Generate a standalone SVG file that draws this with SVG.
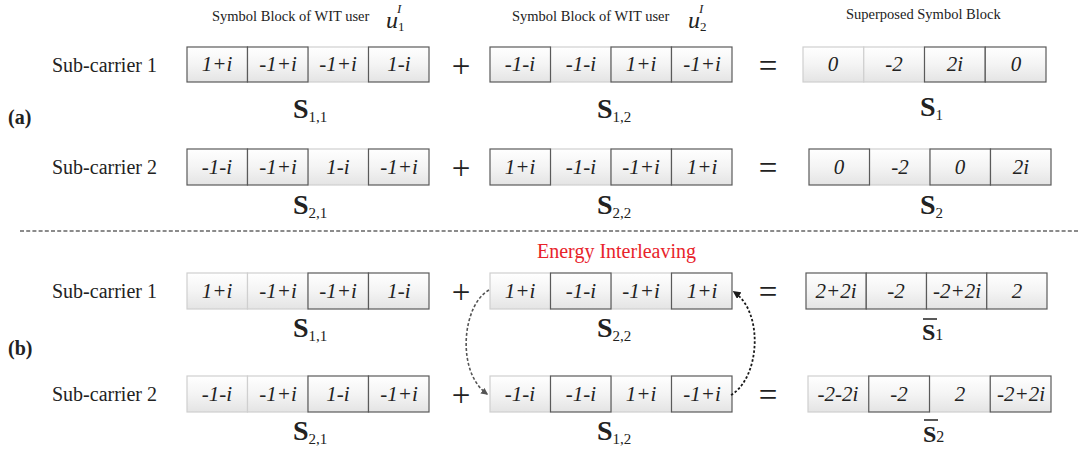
<svg xmlns="http://www.w3.org/2000/svg" width="1080" height="455" viewBox="0 0 1080 455">
<style>
text{font-family:"Liberation Serif","Times New Roman",serif;fill:#222}
.hd{font-size:14.5px}
.lab{font-size:20px}
.ab{font-size:20px;font-weight:bold}
.v{font-size:21px;font-style:italic;text-anchor:middle}
.op{font-size:33px;text-anchor:middle}
.S{font-size:28px;font-weight:bold}
.sub{font-size:15px;font-weight:normal}
.u{font-size:24px;font-style:italic}
.us{font-size:13px}
.usi{font-size:13px;font-style:italic}
.red{font-size:20px;fill:#e8232b}
.l{fill:url(#g);stroke:#cfcfcf;stroke-width:1.2}
.d{fill:url(#g);stroke:#5a5a5a;stroke-width:1.2}
.sep{stroke:#666;stroke-width:1.6;stroke-dasharray:4 2.2;fill:none}
.arr1{stroke:#555;stroke-width:1.6;stroke-dasharray:3 2;fill:none}
.arr2{stroke:#1a1a1a;stroke-width:1.8;stroke-dasharray:2.5 2;fill:none}
.bar{stroke:#222;stroke-width:1.5}
</style>
<defs>
<linearGradient id="g" x1="0" y1="0" x2="0" y2="1">
<stop offset="0" stop-color="#ffffff"/>
<stop offset="0.5" stop-color="#f4f4f4"/>
<stop offset="1" stop-color="#e4e4e4"/>
</linearGradient>
<marker id="m1" viewBox="0 0 10 10" refX="8" refY="5" markerWidth="7" markerHeight="7" orient="auto" markerUnits="userSpaceOnUse"><path d="M0,0 L10,5 L0,10 Z" fill="#555"/></marker>
<marker id="m2" viewBox="0 0 10 10" refX="8" refY="5" markerWidth="8" markerHeight="8" orient="auto" markerUnits="userSpaceOnUse"><path d="M0,0 L10,5 L0,10 Z" fill="#1a1a1a"/></marker>
</defs>

<g id="headers">
<text class="hd" x="212" y="21">Symbol Block of WIT user</text>
<text class="u" x="386" y="28">u</text><text class="us" x="398" y="31">1</text><text class="usi" x="397" y="13">I</text>
<text class="hd" x="512" y="21">Symbol Block of WIT user</text>
<text class="u" x="688" y="28">u</text><text class="us" x="700" y="31">2</text><text class="usi" x="699" y="13">I</text>
<text class="hd" x="846" y="19">Superposed Symbol Block</text>
</g>

<g id="labels">
<text class="lab" x="52" y="72">Sub-carrier 1</text>
<text class="lab" x="52" y="174">Sub-carrier 2</text>
<text class="lab" x="52" y="298">Sub-carrier 1</text>
<text class="lab" x="52" y="401">Sub-carrier 2</text>
<text class="ab" x="8" y="124">(a)</text>
<text class="ab" x="8" y="355">(b)</text>
<text class="red" x="537" y="258">Energy Interleaving</text>
</g>

<line id="separator" class="sep" x1="20" y1="231" x2="1080" y2="231"/>

<!-- Row a1 -->
<g id="a1-b1">
<rect class="l" x="308" y="47" width="60.5" height="35"/>
<rect class="d" x="187" y="47" width="60.5" height="35"/>
<rect class="d" x="247.5" y="47" width="60.5" height="35"/>
<rect class="d" x="368.5" y="47" width="60.5" height="35"/>
<text class="v" x="217" y="71">1+i</text><text class="v" x="278" y="71">-1+i</text><text class="v" x="338" y="71">-1+i</text><text class="v" x="399" y="71">1-i</text>
<text class="S" x="293" y="118">S<tspan class="sub" dy="4">1,1</tspan></text>
</g>
<text class="op" x="461" y="77">+</text>
<g id="a1-b2">
<rect class="l" x="550.5" y="47" width="60.5" height="35"/>
<rect class="d" x="490" y="47" width="60.5" height="35"/>
<rect class="d" x="611" y="47" width="60.5" height="35"/>
<rect class="d" x="671.5" y="47" width="60.5" height="35"/>
<text class="v" x="520" y="71">-1-i</text><text class="v" x="581" y="71">-1-i</text><text class="v" x="641" y="71">1+i</text><text class="v" x="702" y="71">-1+i</text>
<text class="S" x="597" y="118">S<tspan class="sub" dy="4">1,2</tspan></text>
</g>
<text class="op" x="768" y="77">=</text>
<g id="a1-b3">
<rect class="l" x="803" y="47" width="60.75" height="35"/>
<rect class="l" x="863.75" y="47" width="60.75" height="35"/>
<rect class="d" x="924.5" y="47" width="60.75" height="35"/>
<rect class="d" x="985.25" y="47" width="60.75" height="35"/>
<text class="v" x="833" y="71">0</text><text class="v" x="894" y="71">-2</text><text class="v" x="955" y="71">2i</text><text class="v" x="1016" y="71">0</text>
<text class="S" x="920" y="116">S<tspan class="sub" dy="4">1</tspan></text>
</g>

<!-- Row a2 -->
<g id="a2-b1">
<rect class="l" x="308" y="149" width="60.5" height="36"/>
<rect class="d" x="187" y="149" width="60.5" height="36"/>
<rect class="d" x="247.5" y="149" width="60.5" height="36"/>
<rect class="d" x="368.5" y="149" width="60.5" height="36"/>
<text class="v" x="217" y="174">-1-i</text><text class="v" x="278" y="174">-1+i</text><text class="v" x="338" y="174">1-i</text><text class="v" x="399" y="174">-1+i</text>
<text class="S" x="293" y="214">S<tspan class="sub" dy="4">2,1</tspan></text>
</g>
<text class="op" x="461" y="179">+</text>
<g id="a2-b2">
<rect class="l" x="550.5" y="149" width="60.5" height="36"/>
<rect class="d" x="490" y="149" width="60.5" height="36"/>
<rect class="d" x="611" y="149" width="60.5" height="36"/>
<rect class="d" x="671.5" y="149" width="60.5" height="36"/>
<text class="v" x="520" y="174">1+i</text><text class="v" x="581" y="174">-1-i</text><text class="v" x="641" y="174">-1+i</text><text class="v" x="702" y="174">1+i</text>
<text class="S" x="597" y="214">S<tspan class="sub" dy="4">2,2</tspan></text>
</g>
<text class="op" x="768" y="179">=</text>
<g id="a2-b3">
<rect class="l" x="869.5" y="149" width="60.5" height="36"/>
<rect class="d" x="809" y="149" width="60.5" height="36"/>
<rect class="d" x="930" y="149" width="60.5" height="36"/>
<rect class="d" x="990.5" y="149" width="60.5" height="36"/>
<text class="v" x="839" y="174">0</text><text class="v" x="900" y="174">-2</text><text class="v" x="960" y="174">0</text><text class="v" x="1021" y="174">2i</text>
<text class="S" x="920" y="214">S<tspan class="sub" dy="4">2</tspan></text>
</g>

<!-- Row b1 -->
<g id="b1-b1">
<rect class="l" x="187" y="273" width="60.5" height="36"/>
<rect class="l" x="247.5" y="273" width="60.5" height="36"/>
<rect class="d" x="308" y="273" width="60.5" height="36"/>
<rect class="d" x="368.5" y="273" width="60.5" height="36"/>
<text class="v" x="217" y="298">1+i</text><text class="v" x="278" y="298">-1+i</text><text class="v" x="338" y="298">-1+i</text><text class="v" x="399" y="298">1-i</text>
<text class="S" x="293" y="337">S<tspan class="sub" dy="4">1,1</tspan></text>
</g>
<text class="op" x="461" y="303">+</text>
<g id="b1-b2">
<rect class="l" x="490" y="273" width="60.5" height="36"/>
<rect class="l" x="611" y="273" width="60.5" height="36"/>
<rect class="d" x="550.5" y="273" width="60.5" height="36"/>
<rect class="d" x="671.5" y="273" width="60.5" height="36"/>
<text class="v" x="520" y="298">1+i</text><text class="v" x="581" y="298">-1-i</text><text class="v" x="641" y="298">-1+i</text><text class="v" x="702" y="298">1+i</text>
<text class="S" x="597" y="337">S<tspan class="sub" dy="4">2,2</tspan></text>
</g>
<text class="op" x="768" y="303">=</text>
<g id="b1-b3">
<rect class="d" x="806" y="273" width="60.25" height="36"/>
<rect class="d" x="866.25" y="273" width="60.25" height="36"/>
<rect class="d" x="926.5" y="273" width="60.25" height="36"/>
<rect class="d" x="986.75" y="273" width="60.25" height="36"/>
<text class="v" x="836" y="298">2+2i</text><text class="v" x="896" y="298">-2</text><text class="v" x="957" y="298">-2+2i</text><text class="v" x="1017" y="298">2</text>
<line class="bar" x1="923" y1="319" x2="937" y2="319"/>
<text class="S" x="922" y="340" style="font-size:24px">S<tspan class="sub" style="font-size:16px">1</tspan></text>
</g>

<!-- Row b2 -->
<g id="b2-b1">
<rect class="l" x="187" y="376" width="60.5" height="36"/>
<rect class="l" x="247.5" y="376" width="60.5" height="36"/>
<rect class="d" x="308" y="376" width="60.5" height="36"/>
<rect class="d" x="368.5" y="376" width="60.5" height="36"/>
<text class="v" x="217" y="401">-1-i</text><text class="v" x="278" y="401">-1+i</text><text class="v" x="338" y="401">1-i</text><text class="v" x="399" y="401">-1+i</text>
<text class="S" x="293" y="440">S<tspan class="sub" dy="4">2,1</tspan></text>
</g>
<text class="op" x="461" y="406">+</text>
<g id="b2-b2">
<rect class="l" x="490" y="376" width="60.5" height="36"/>
<rect class="l" x="611" y="376" width="60.5" height="36"/>
<rect class="d" x="550.5" y="376" width="60.5" height="36"/>
<rect class="d" x="671.5" y="376" width="60.5" height="36"/>
<text class="v" x="520" y="401">-1-i</text><text class="v" x="581" y="401">-1-i</text><text class="v" x="641" y="401">1+i</text><text class="v" x="702" y="401">-1+i</text>
<text class="S" x="597" y="440">S<tspan class="sub" dy="4">1,2</tspan></text>
</g>
<text class="op" x="768" y="406">=</text>
<g id="b2-b3">
<rect class="l" x="808" y="376" width="60.75" height="36"/>
<rect class="l" x="929.5" y="376" width="60.75" height="36"/>
<rect class="d" x="868.75" y="376" width="60.75" height="36"/>
<rect class="d" x="990.25" y="376" width="60.75" height="36"/>
<text class="v" x="838" y="401">-2-2i</text><text class="v" x="899" y="401">-2</text><text class="v" x="960" y="401">2</text><text class="v" x="1021" y="401">-2+2i</text>
<line class="bar" x1="924" y1="420" x2="938" y2="420"/>
<text class="S" x="923" y="442" style="font-size:24px">S<tspan class="sub" style="font-size:16px">2</tspan></text>
</g>

<g id="connectors">
<path class="arr1" d="M489,290 C462,305 456,372 487,394" marker-end="url(#m1)"/>
<path class="arr2" d="M731,395 C760,378 764,312 734,292" marker-end="url(#m2)"/>
</g>
</svg>
